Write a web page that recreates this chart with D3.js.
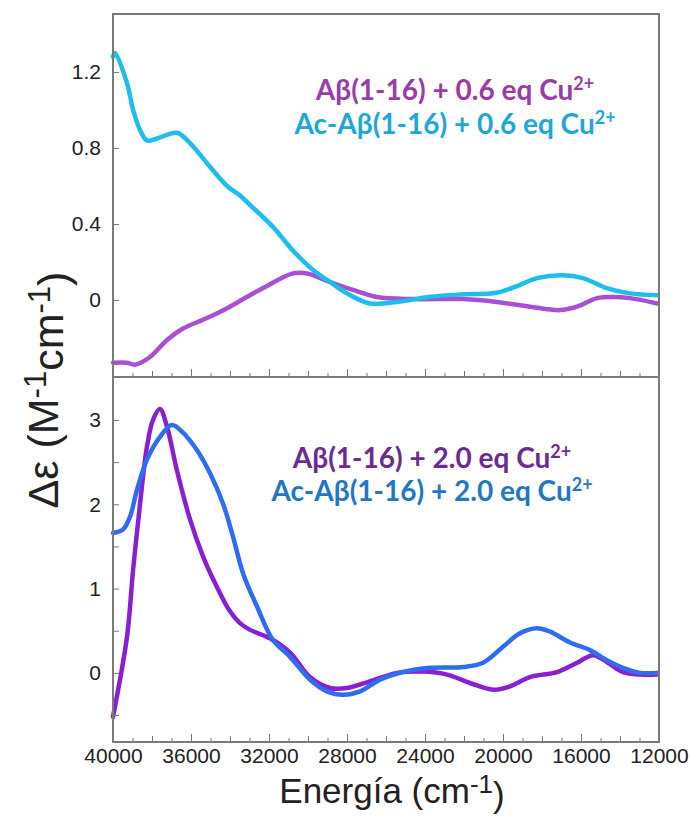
<!DOCTYPE html>
<html>
<head>
<meta charset="utf-8">
<script src="https://cdn.jsdelivr.net/npm/d3@7"></script>
<style>
  body { margin: 0; background: #fff; }
  svg { display: block; }
</style>
</head>
<body>
<script>
// Canvas and panel edges.
var width   = 690,
    height  = 816,
    pLeft   = 113,
    pRight  = 659,
    pTop    = 14,
    pMid    = 377,
    pBottom = 742;

// Top panel: 0.6 eq Cu2+ (energy in cm-1, delta epsilon).
var topAbE = [40000, 39280, 38870, 38100, 37230, 36410, 35180, 34000, 33850, 32300, 30770, 30050, 28870, 27690, 26460, 24620, 22030, 20330, 18620, 17080, 16200, 15180, 14360, 13490, 12100];
var topAbV = [-0.33, -0.33, -0.34, -0.30, -0.21, -0.15, -0.095, -0.035, -0.026, 0.063, 0.14, 0.14, 0.095, 0.053, 0.016, 0.005, 0.005, -0.01, -0.035, -0.053, -0.035, 0.01, 0.016, 0.01, -0.018];
var topAcE = [40000, 39900, 39280, 38970, 38615, 38260, 37740, 36720, 36050, 35180, 34150, 33490, 32970, 31800, 30770, 29740, 28870, 28000, 26820, 25440, 23740, 22030, 20330, 19130, 18260, 16920, 15900, 14680, 13490, 12100];
var topAcV = [1.28, 1.30, 1.14, 1.0, 0.895, 0.84, 0.85, 0.88, 0.826, 0.72, 0.60, 0.55, 0.50, 0.385, 0.26, 0.158, 0.095, 0.035, -0.018, -0.01, 0.017, 0.03, 0.038, 0.08, 0.115, 0.13, 0.115, 0.063, 0.035, 0.025];

// Bottom panel: 2.0 eq Cu2+.
var botAbE = [40000, 39280, 38970, 38615, 38260, 37950, 37590, 37230, 36720, 36050, 35380, 34670, 34000, 33490, 32970, 31950, 30920, 29900, 28870, 28000, 26820, 25440, 24100, 22870, 21690, 20510, 19640, 18620, 17230, 16200, 15380, 14680, 13850, 12970, 12100];
var botAbV = [-0.52, 0.43, 1.22, 2.0, 2.68, 3.0, 3.13, 2.92, 2.4, 1.82, 1.38, 1.02, 0.73, 0.59, 0.51, 0.41, 0.24, -0.05, -0.18, -0.18, -0.1, 0.0, 0.016, -0.02, -0.12, -0.2, -0.16, -0.05, 0.01, 0.12, 0.21, 0.13, 0.01, -0.02, -0.02];
var botAcE = [40000, 39490, 39130, 38770, 38260, 37590, 36980, 36410, 35690, 35030, 34360, 33850, 33330, 32620, 31800, 30920, 29900, 29030, 28200, 27330, 26310, 25130, 23740, 22030, 21030, 20000, 19130, 18260, 17590, 16560, 15540, 14680, 13850, 12970, 12100];
var botAcV = [1.66, 1.7, 1.85, 2.17, 2.53, 2.8, 2.94, 2.85, 2.64, 2.37, 2.01, 1.62, 1.18, 0.79, 0.39, 0.19, -0.08, -0.22, -0.26, -0.22, -0.08, 0.01, 0.06, 0.07, 0.12, 0.31, 0.47, 0.53, 0.49, 0.36, 0.27, 0.15, 0.06, 0.0, 0.0];

// Tick values.
var xTicks    = [40000, 36000, 32000, 28000, 24000, 20000, 16000, 12000];
var yTopTicks = [0, 0.4, 0.8, 1.2];
var yBotTicks = [0, 1, 2, 3];
var yBotMinor = [-0.5, 0.5, 1.5, 2.5];

var svg = d3.select("body")
    .append("svg")
    .attr("width", width)
    .attr("height", height);

// Scales.
var x    = d3.scaleLinear().domain([40000, 12000]).range([pLeft, pRight]);
var yTop = d3.scaleLinear().domain([-0.405, 1.505]).range([pMid, pTop]);
var yBot = d3.scaleLinear().domain([-0.82, 3.51]).range([pBottom, pMid]);

function zip(es, vs) {
    return es.map(function(e, i) { return [e, vs[i]]; });
}

function drawLine(data, y, color) {
    var line = d3.line()
        .x(function(d) { return x(d[0]); })
        .y(function(d) { return y(d[1]); })
        .curve(d3.curveCatmullRom.alpha(0.5));
    svg.append("path")
        .datum(data)
        .attr("d", line)
        .attr("fill", "none")
        .attr("stroke", color)
        .attr("stroke-width", 4.5)
        .attr("stroke-linejoin", "round")
        .attr("stroke-linecap", "round");
}

drawLine(zip(topAbE, topAbV), yTop, "#a94fd3");
drawLine(zip(topAcE, topAcV), yTop, "#1dbdec");
drawLine(zip(botAbE, botAbV), yBot, "#8a1fd2");
drawLine(zip(botAcE, botAcV), yBot, "#2f6df0");

// X ticks: minor every 1000, medium every 2000, major every 4000.
function xTickAxis(yPos, values, size, labels) {
    var ax = d3.axisBottom(x)
        .tickValues(values)
        .tickSizeInner(-size)
        .tickSizeOuter(0)
        .tickPadding(6)
        .tickFormat(labels ? d3.format("d") : "");
    var g = svg.append("g")
        .attr("transform", "translate(0," + yPos + ")")
        .call(ax);
    g.select(".domain").remove();
    g.selectAll("line").attr("stroke", "#777");
    return g;
}

var minor  = d3.range(13000, 40000, 1000);
var medium = d3.range(14000, 40000, 2000);
[pMid, pBottom].forEach(function(yPos) {
    xTickAxis(yPos, minor, 4, false);
    xTickAxis(yPos, medium, 6, false);
});
xTickAxis(pMid, xTicks, 8, false);
var xLab = xTickAxis(pBottom, xTicks, 8, true);
xLab.selectAll("text")
    .attr("font-family", "'Liberation Sans', Arial, sans-serif")
    .attr("font-size", "21px")
    .attr("fill", "#222");

// Y ticks.
function yTickAxis(y, values, size, labels) {
    var ax = d3.axisLeft(y)
        .tickValues(values)
        .tickSizeInner(-size)
        .tickSizeOuter(0)
        .tickPadding(12)
        .tickFormat(labels ? d3.format("") : "");
    var g = svg.append("g")
        .attr("transform", "translate(" + pLeft + ",0)")
        .call(ax);
    g.select(".domain").remove();
    g.selectAll("line").attr("stroke", "#777");
    g.selectAll("text")
        .attr("font-family", "'Liberation Sans', Arial, sans-serif")
        .attr("font-size", "21px")
        .attr("fill", "#222");
    return g;
}
yTickAxis(yTop, yTopTicks, 6, true);
yTickAxis(yBot, yBotTicks, 6, true);
yTickAxis(yBot, yBotMinor, 6, false);

// Panel frames.
[[pTop, pMid], [pMid, pBottom]].forEach(function(p) {
    svg.append("rect")
        .attr("x", pLeft)
        .attr("y", p[0])
        .attr("width", pRight - pLeft)
        .attr("height", p[1] - p[0])
        .attr("fill", "none")
        .attr("stroke", "#7a7a7a")
        .attr("stroke-width", 2);
});

// Legends.
function legendLine(cx, cy, label, color) {
    var t = svg.append("text")
        .attr("x", cx)
        .attr("y", cy)
        .attr("text-anchor", "middle")
        .attr("dominant-baseline", "middle")
        .attr("font-family", "Lato, 'Open Sans', sans-serif")
        .attr("font-weight", "bold")
        .attr("font-size", "28px")
        .attr("fill", color);
    t.append("tspan").text(label);
    t.append("tspan")
        .attr("dy", "-0.42em")
        .attr("font-size", "18px")
        .text("2+");
}
legendLine(455, 93,  "A\u03b2(1-16) + 0.6 eq Cu", "#9b3ba6");
legendLine(455, 127, "Ac-A\u03b2(1-16) + 0.6 eq Cu", "#1ea7da");
legendLine(432, 461, "A\u03b2(1-16) + 2.0 eq Cu", "#6c2b90");
legendLine(432, 494, "Ac-A\u03b2(1-16) + 2.0 eq Cu", "#1f77c6");

// Axis titles.
var xt = svg.append("text")
    .attr("x", 392)
    .attr("y", 803)
    .attr("text-anchor", "middle")
    .attr("font-family", "'Liberation Sans', Arial, sans-serif")
    .attr("font-size", "35px")
    .attr("fill", "#222");
xt.append("tspan").text("Energ\u00eda (cm");
xt.append("tspan").attr("dy", "-0.4em").attr("font-size", "26px").text("-1");
xt.append("tspan").attr("dy", "0.4em").text(")");

var yt = svg.append("text")
    .attr("transform", "translate(58,390) rotate(-90)")
    .attr("text-anchor", "middle")
    .attr("font-family", "'Liberation Sans', Arial, sans-serif")
    .attr("font-size", "43px")
    .attr("fill", "#222");
yt.append("tspan").text("\u0394\u03b5 (M");
yt.append("tspan").attr("dy", "-0.4em").attr("font-size", "31px").text("-1");
yt.append("tspan").attr("dy", "0.4em").text("cm");
yt.append("tspan").attr("dy", "-0.4em").attr("font-size", "31px").text("-1");
yt.append("tspan").attr("dy", "0.4em").text(")");
</script>
</body>
</html>
